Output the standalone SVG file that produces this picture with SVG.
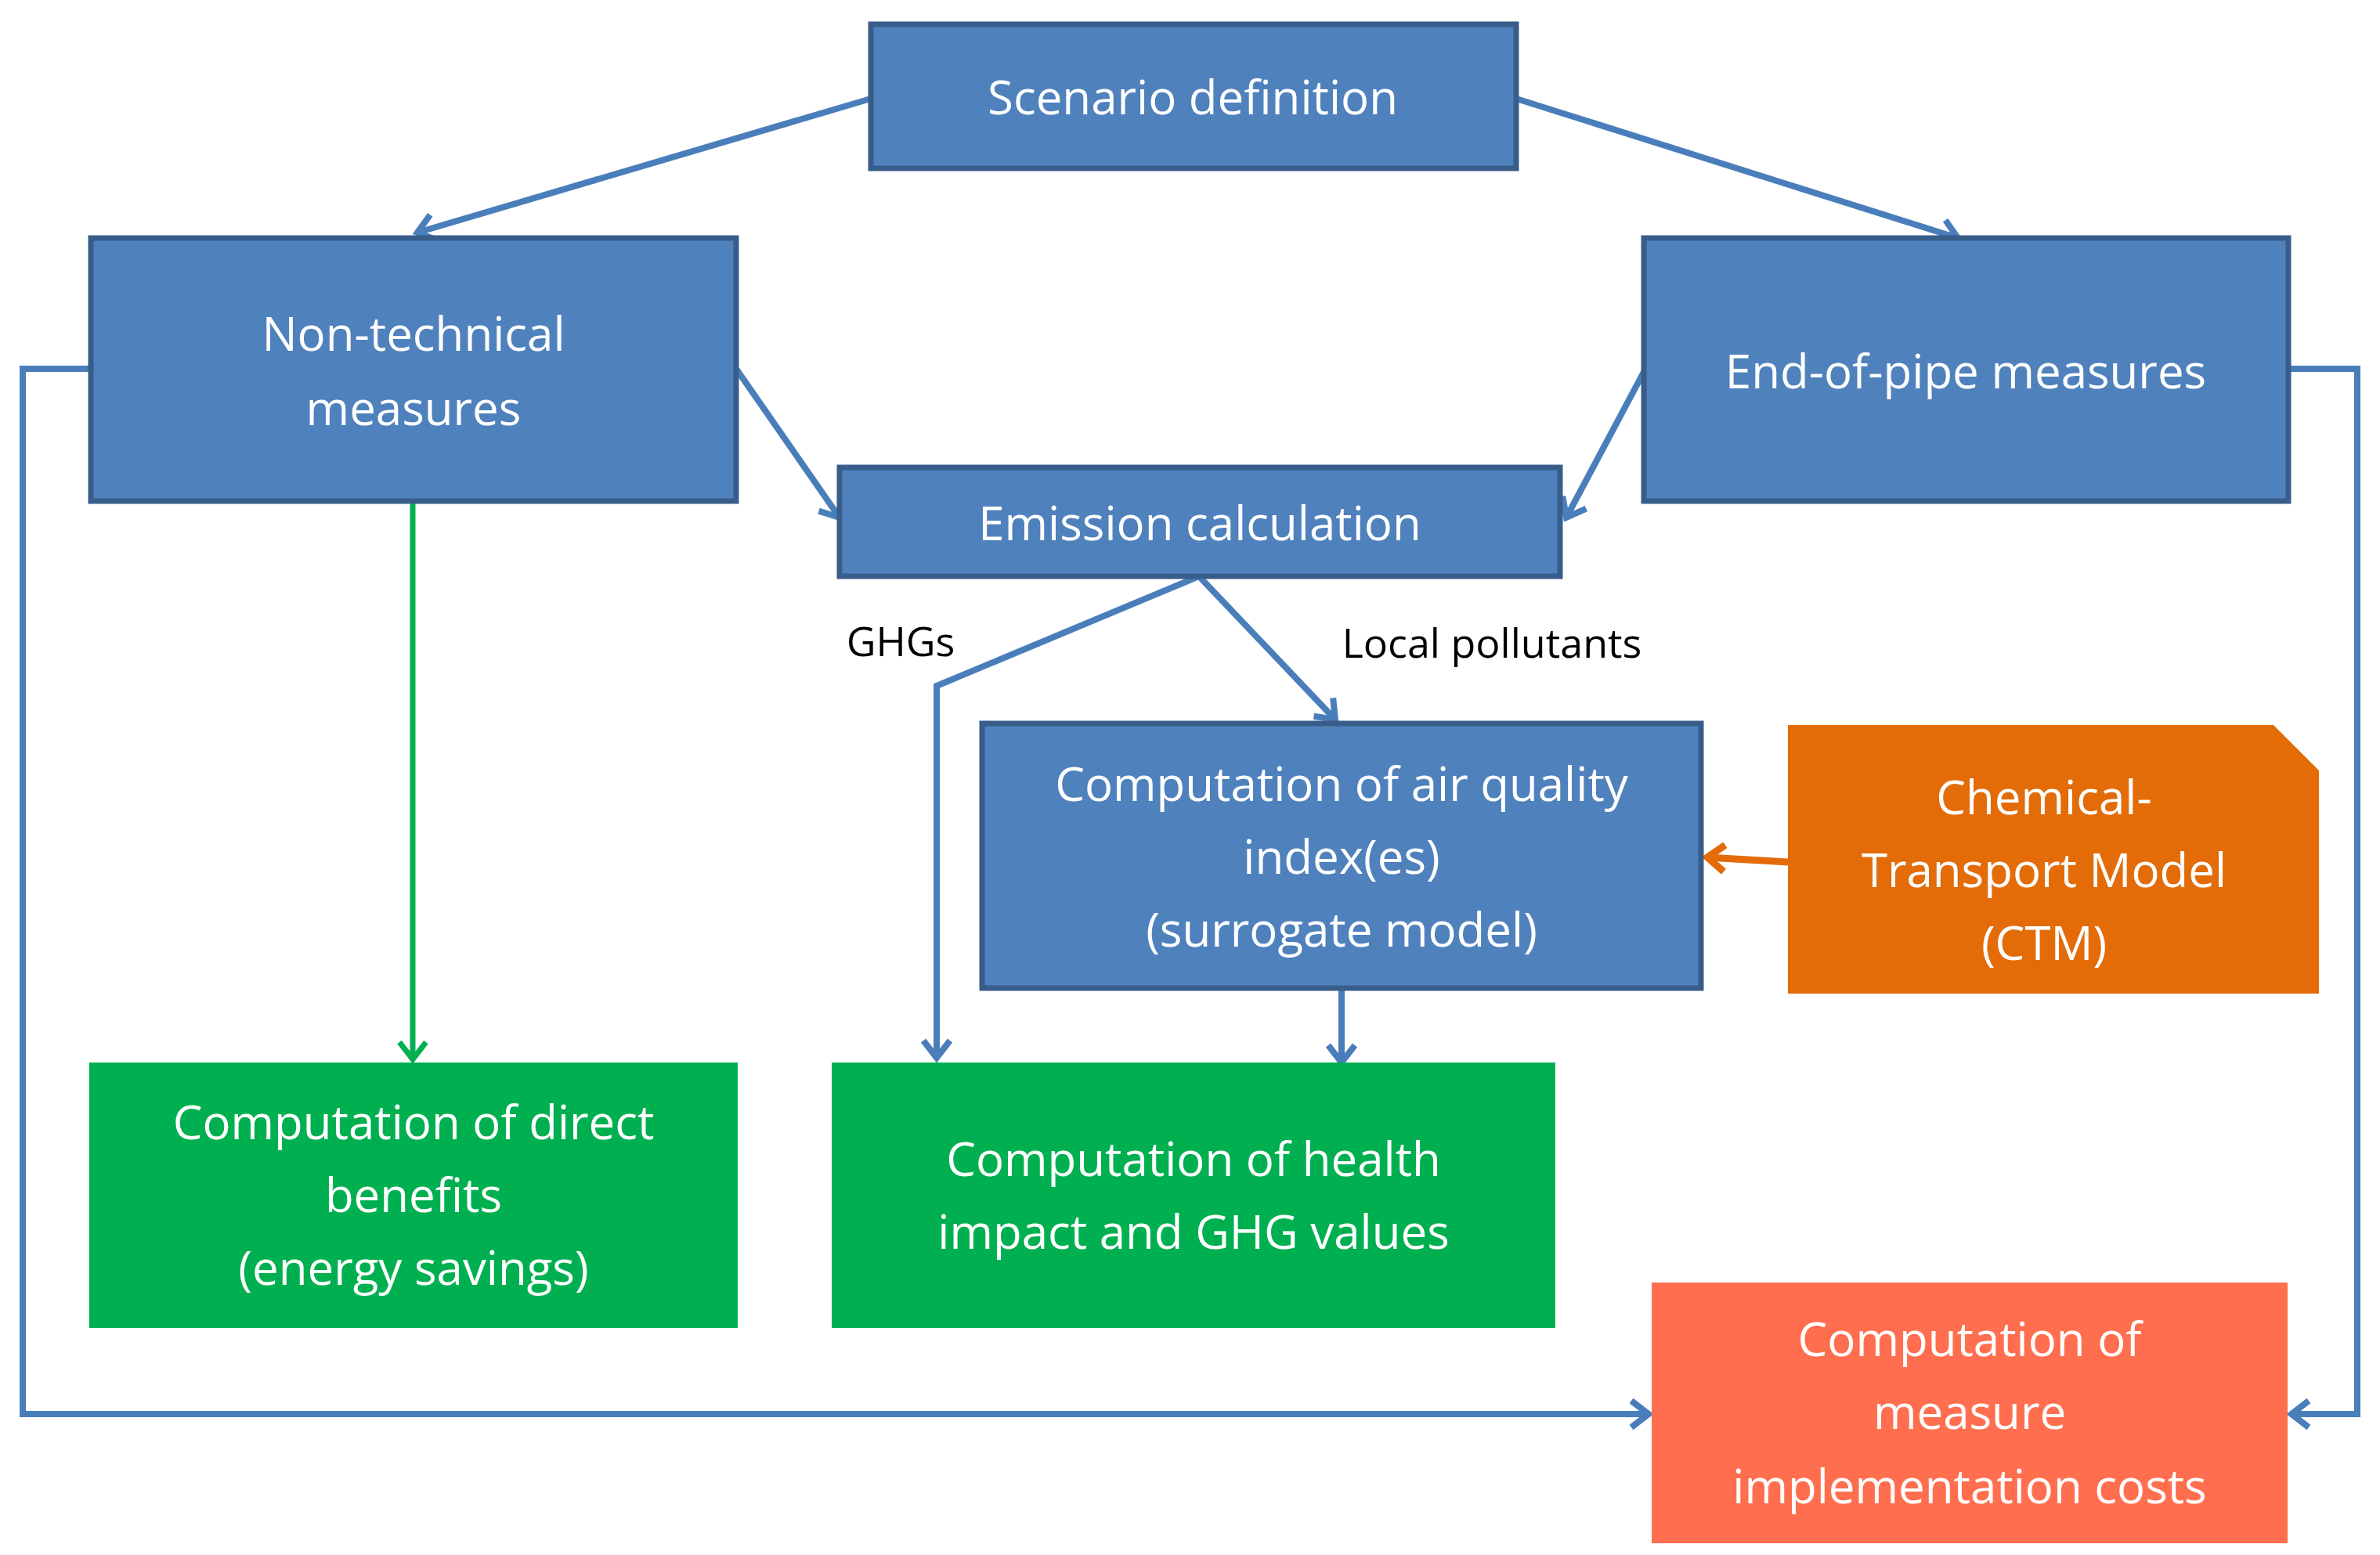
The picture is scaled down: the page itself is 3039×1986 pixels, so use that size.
<svg xmlns="http://www.w3.org/2000/svg" width="3039" height="1986" viewBox="0 0 3039 1986">
<style>
.blue{fill:#4F81BD;stroke:#385D8A;stroke-width:7}
.green{fill:#00B050}
.orange{fill:#E36C09}
.red{fill:#FF6F4F}
.t{font-family:"Open Sans","Liberation Sans",sans-serif;font-size:60px;fill:#fff;text-anchor:middle}
.lab{font-family:"Open Sans","Liberation Sans",sans-serif;font-size:52px;fill:#000;text-anchor:middle}
.c{fill:none;stroke:#4A7EBB;stroke-width:8}
</style>
<defs>
<marker id="ab" markerUnits="userSpaceOnUse" markerWidth="50" markerHeight="50" viewBox="0 0 50 50" refX="44" refY="25" orient="auto"><path d="M22,8 L44,25 L22,42" fill="none" stroke="#4A7EBB" stroke-width="8"/></marker>
<marker id="ag" markerUnits="userSpaceOnUse" markerWidth="50" markerHeight="50" viewBox="0 0 50 50" refX="44" refY="25" orient="auto"><path d="M22,8 L44,25 L22,42" fill="none" stroke="#00B050" stroke-width="7"/></marker>
<marker id="ao" markerUnits="userSpaceOnUse" markerWidth="50" markerHeight="50" viewBox="0 0 50 50" refX="44" refY="25" orient="auto"><path d="M22,8 L44,25 L22,42" fill="none" stroke="#E36C09" stroke-width="9"/></marker>
</defs>
<g id="connectors">
<path class="c" d="M1112,126 L533,297" marker-end="url(#ab)"/>
<path class="c" d="M1936,126 L2500,304" marker-end="url(#ab)"/>
<path class="c" d="M940,471 L1072,661" marker-end="url(#ab)"/>
<path class="c" d="M2099,475 L2000,661" marker-end="url(#ab)"/>
<path class="c" d="M1531,736 L1196,876 L1196,1351" marker-end="url(#ab)"/>
<path class="c" d="M1531,736 L1705,919" marker-end="url(#ab)"/>
<path class="c" d="M1713,1262 L1713,1357" marker-end="url(#ab)"/>
<path d="M2283,1101 L2180,1095" fill="none" stroke="#E36C09" stroke-width="9" marker-end="url(#ao)"/>
<path d="M527,640 L527,1353" fill="none" stroke="#00B050" stroke-width="7" marker-end="url(#ag)"/>
<path class="c" d="M116,471 L29,471 L29,1806 L2105,1806" marker-end="url(#ab)"/>
<path class="c" d="M2922,471 L3010,471 L3010,1806 L2926,1806" marker-end="url(#ab)"/>
<text class="lab" x="1150" y="838">GHGs</text>
<text class="lab" x="1905" y="840">Local pollutants</text>
</g>
<g id="scenario"><rect class="blue" x="1112" y="31" width="824" height="184"/><text class="t" x="1523" y="146">Scenario definition</text></g>
<g id="nontech"><rect class="blue" x="116" y="304" width="824" height="336"/><text class="t" x="528" y="448">Non-technical</text><text class="t" x="528" y="543">measures</text></g>
<g id="endofpipe"><rect class="blue" x="2099" y="304" width="823" height="336"/><text class="t" x="2510" y="496">End-of-pipe measures</text></g>
<g id="emission"><rect class="blue" x="1072" y="597" width="920" height="139"/><text class="t" x="1532" y="690">Emission calculation</text></g>
<g id="airquality"><rect class="blue" x="1254" y="924" width="918" height="338"/><text class="t" x="1713" y="1023">Computation of air quality</text><text class="t" x="1713" y="1116">index(es)</text><text class="t" x="1713" y="1209">(surrogate model)</text></g>
<g id="ctm"><path class="orange" d="M2283,926 L2903,926 L2961,984 L2961,1269 L2283,1269 Z"/><text class="t" x="2610" y="1040">Chemical-</text><text class="t" x="2610" y="1133">Transport Model</text><text class="t" x="2610" y="1226">(CTM)</text></g>
<g id="directbenefits"><rect class="green" x="114" y="1357" width="828" height="339"/><text class="t" x="528" y="1455">Computation of direct</text><text class="t" x="528" y="1548">benefits</text><text class="t" x="528" y="1641">(energy savings)</text></g>
<g id="health"><rect class="green" x="1062" y="1357" width="924" height="339"/><text class="t" x="1524" y="1502">Computation of health</text><text class="t" x="1524" y="1595">impact and GHG values</text></g>
<g id="costs"><rect class="red" x="2109" y="1638" width="812" height="333"/><text class="t" x="2515" y="1732">Computation of</text><text class="t" x="2515" y="1825">measure</text><text class="t" x="2515" y="1920">implementation costs</text></g>
</svg>
